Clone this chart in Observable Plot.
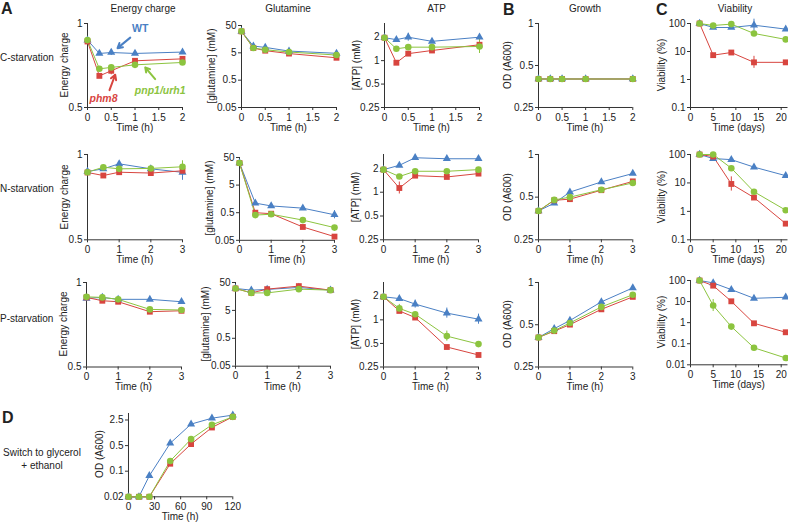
<!DOCTYPE html>
<html><head><meta charset="utf-8">
<script src="https://cdn.jsdelivr.net/npm/d3@7"></script>
<script src="https://cdn.jsdelivr.net/npm/@observablehq/plot@0.6"></script>
<style>
body{margin:0;background:#fff;}
#fig{position:relative;width:788px;height:523px;overflow:hidden;font-family:"Liberation Sans",Arial,Helvetica,sans-serif;color:#222;}
.t{position:absolute;white-space:nowrap;font-size:10px;line-height:1;}
.c{transform:translate(-50%,-50%);}
.r{transform:translate(-50%,-50%) rotate(-90deg);}
.lft{transform:translate(0,-50%);}
.p{position:absolute;}
.p svg{max-width:none !important;display:block;}
.L{font-weight:bold;font-size:16px;}
</style></head><body><div id="fig"></div>
<script>
// ---------- data ----------
const seriesNames = ["WT", "phm8", "pnp1/urh1"];
const colors = ["#4a80c4", "#d8453f", "#8cc43f"];
const symbols = ["triangle", "square", "circle"];
const sizes = [3.0, 3.3, 3.3];

const timeC = [0, 0.25, 0.5, 1, 2];
const timeNP = [0, 0.5, 1, 2, 3];
const days = [2, 5, 9, 14, 21];
const timeD = [0, 12, 24, 48, 72, 96, 120];

const ticksTimeC = [0, 0.5, 1, 1.5, 2];
const ticksTimeNP = [0, 1, 2, 3];
const ticksDays = [0, 5, 10, 15, 20];
const ticksTimeD = [0, 30, 60, 90, 120];
const ticksEC = [0.5, 1];
const ticksGln = [0.05, 0.5, 5, 50];
const ticksATP = [0.25, 0.5, 1, 2];
const ticksOD = [0.25, 0.5, 1];
const ticksVia = [0.1, 1, 10, 100];
const ticksViaP = [0.01, 0.1, 1, 10, 100];
const ticksODD = [0.02, 0.1, 0.5, 2.5];

// Energy charge
const ecC_WT = [0.872, 0.781, 0.787, 0.781, 0.79];
const ecC_phm8 = [0.862, 0.649, 0.677, 0.735, 0.747];
const ecC_pnp = [0.872, 0.688, 0.696, 0.711, 0.725];
const ecN_WT = [0.871, 0.89, 0.927, 0.89, 0.865];
const ecN_phm8 = [0.864, 0.843, 0.866, 0.86, 0.876];
const ecN_pnp = [0.866, 0.902, 0.89, 0.893, 0.905];
const ecP_WT = [0.878, 0.885, 0.871, 0.871, 0.854];
const ecP_phm8 = [0.885, 0.861, 0.854, 0.787, 0.793];
const ecP_pnp = [0.889, 0.885, 0.871, 0.802, 0.798];

// Glutamine (mM)
const glnC_WT = [30.5, 8.85, 7.9, 5.8, 4.8];
const glnC_phm8 = [30.5, 7.5, 6.0, 4.7, 3.3];
const glnC_pnp = [30.5, 7.5, 6.5, 5.35, 4.15];
const glnN_WT = [31.5, 1.11, 0.88, 0.73, 0.42];
const glnN_phm8 = [31.5, 0.5, 0.46, 0.152, 0.068];
const glnN_pnp = [31.5, 0.41, 0.44, 0.27, 0.144];
const glnP_WT = [30.6, 26.6, 28.2, 33.3, 26.6];
const glnP_phm8 = [30.6, 21.2, 28.9, 37.1, 26.6];
const glnP_pnp = [30.6, 21.2, 21.2, 28.9, 26.6];

// ATP (mM)
const atpC_WT = [1.97, 1.86, 2.0, 1.77, 2.0];
const atpC_phm8 = [1.97, 0.94, 1.23, 1.35, 1.6];
const atpC_pnp = [1.97, 1.42, 1.49, 1.49, 1.52];
const atpN_WT = [1.93, 2.19, 2.73, 2.65, 2.65];
const atpN_phm8 = [1.93, 1.13, 1.62, 1.56, 1.72];
const atpN_pnp = [1.93, 1.58, 1.84, 1.84, 1.93];
const atpP_WT = [1.97, 1.87, 1.59, 1.22, 1.02];
const atpP_phm8 = [1.97, 1.30, 1.07, 0.45, 0.356];
const atpP_pnp = [1.97, 1.40, 1.18, 0.62, 0.49];

// Growth OD (A600)
const grC_WT = [0.40, 0.40, 0.40, 0.40, 0.40];
const grC_phm8 = [0.40, 0.40, 0.40, 0.40, 0.40];
const grC_pnp = [0.40, 0.40, 0.40, 0.40, 0.40];
const grN_WT = [0.40, 0.453, 0.543, 0.64, 0.734];
const grN_phm8 = [0.40, 0.475, 0.484, 0.56, 0.646];
const grN_pnp = [0.40, 0.478, 0.50, 0.564, 0.63];
const grP_WT = [0.406, 0.469, 0.536, 0.728, 0.915];
const grP_phm8 = [0.406, 0.45, 0.501, 0.644, 0.79];
const grP_pnp = [0.406, 0.454, 0.515, 0.67, 0.818];

// Viability (%)
const viaC_WT = [100, 72, 72, 87, 63];
const viaC_phm8 = [100, 7.4, 9.2, 4.1, 4.1];
const viaC_pnp = [100, 85, 95, 44, 27];
const viaN_WT = [100, 72, 66, 36, 18];
const viaN_phm8 = [100, 85, 9.2, 3.06, 0.37];
const viaN_pnp = [100, 100, 33, 4.9, 1.1];
const viaP_WT = [100, 77, 37, 14.3, 16];
const viaP_phm8 = [100, 57, 10.3, 0.93, 0.35];
const viaP_pnp = [100, 6.5, 0.65, 0.064, 0.021];

// D: switch to glycerol + ethanol, OD (A600)
const odD_WT = [0.02, 0.02, 0.075, 0.58, 1.93, 2.8, 3.4];
const odD_phm8 = [0.02, 0.02, 0.02, 0.16, 0.55, 1.56, 3.05];
const odD_pnp = [0.02, 0.02, 0.02, 0.19, 0.75, 1.85, 3.05];

// error bars: panel, series index, point index, multiplicative half-width
const errPanel = ["ecC", "ecC", "atpC", "atpC", "atpN", "atpP", "atpP", "atpP", "atpP", "atpP", "viaC", "viaC", "viaN", "viaP", "glnN", "ecN", "ecN"];
const errSeries = [0, 1, 0, 2, 1, 0, 0, 0, 2, 2, 0, 1, 1, 2, 0, 0, 2];
const errIndex = [2, 2, 2, 4, 1, 2, 3, 4, 1, 3, 3, 3, 2, 1, 4, 4, 4];
const errFactor = [1.025, 1.034, 1.125, 1.23, 1.19, 1.125, 1.16, 1.16, 1.125, 1.16, 1.64, 1.64, 1.78, 1.93, 1.4, 1.067, 1.05];

// annotation (energy charge, C-starvation), in data units
const labelText = ["WT", "phm8", "pnp1/urh1"];
const labelX = [1.11, 0.337, 1.53];
const labelY = [0.955, 0.536, 0.577];
const arrowX1 = [0.9, 0.463, 1.425];
const arrowY1 = [0.89, 0.577, 0.632];
const arrowX2 = [0.632, 0.583, 1.215];
const arrowY2 = [0.816, 0.655, 0.696];

// ---------- drawing ----------
const fig = document.getElementById("fig");
function txt(s, x, y, cls, style) {
  const d = document.createElement("div");
  d.className = "t " + cls; d.textContent = s;
  d.style.left = x + "px"; d.style.top = y + "px";
  if (style) Object.assign(d.style, style);
  fig.appendChild(d);
}
const fmt = d => String(d);
const axisColor = "#333";

function panel(o) {
  const ml = 34, mr = 8, mt = 8, mb = 18;
  const w = o.x1 - o.x0, h = o.y1 - o.y0;
  const marks = [
    Plot.ruleX([o.xDomain[0]], {stroke: axisColor, strokeWidth: 1}),
    Plot.ruleY([o.yDomain[0]], {stroke: axisColor, strokeWidth: 1}),
    Plot.axisY({ticks: o.yTicks, tickSize: 3, tickFormat: () => "", label: null, stroke: axisColor}),
    Plot.text(o.yTicks, {y: d => d, text: fmt, frameAnchor: "left", textAnchor: "end", dx: -5, fill: "#222"}),
    Plot.axisX({ticks: o.xTicks, tickSize: 3, tickPadding: 3, tickFormat: fmt, label: null, stroke: axisColor})
  ];
  const sets = o.series.map((vals, si) => vals.map((v, i) => ({x: o.xs[i], y: v, s: seriesNames[si]})));
  // error bars
  errPanel.forEach((p, k) => {
    if (p !== o.id) return;
    const pt = sets[errSeries[k]][errIndex[k]];
    marks.push(Plot.ruleX([pt], {x: "x", y1: d => d.y / errFactor[k], y2: d => d.y * errFactor[k], stroke: colors[errSeries[k]], strokeWidth: 1}));
  });
  sets.forEach((d, si) => marks.push(Plot.line(d, {x: "x", y: "y", stroke: colors[si], strokeWidth: 1})));
  sets.forEach((d, si) => marks.push(Plot.dot(d, {x: "x", y: "y", fill: colors[si], symbol: symbols[si], r: sizes[si]})));
  if (o.extra) marks.push(...o.extra);
  const W = ml + w + mr, H = mt + h + mb;
  const chart = Plot.plot({
    width: W, height: H,
    marginLeft: ml, marginRight: mr, marginTop: mt, marginBottom: mb,
    x: {domain: o.xDomain},
    y: {type: "log", domain: o.yDomain},
    style: {fontFamily: '"Liberation Sans",Arial,Helvetica,sans-serif', fontSize: "10px", color: "#222", background: "transparent", overflow: "visible"},
    marks
  });
  const div = document.createElement("div");
  div.className = "p";
  div.style.left = (o.x0 - ml) + "px"; div.style.top = (o.y0 - mt) + "px";
  div.style.width = W + "px"; div.style.height = H + "px";
  div.appendChild(chart);
  fig.appendChild(div);
  txt(o.ylabel, o.x0 - o.ylOff, (o.y0 + o.y1) / 2, "r");
  txt(o.xlabel, (o.x0 + o.x1) / 2, o.y1 + 21, "c");
}

const annots = labelText.map((s, i) => ({s, x: labelX[i], y: labelY[i], x1: arrowX1[i], y1: arrowY1[i], x2: arrowX2[i], y2: arrowY2[i], c: colors[i]}));
const annMarks = [
  ...annots.map(a => Plot.arrow([a], {x1: "x1", y1: "y1", x2: "x2", y2: "y2", stroke: a.c, strokeWidth: 2, headLength: 6})),
  ...annots.map((a, i) => Plot.text([a], {x: "x", y: "y", text: "s", fill: a.c, fontWeight: "bold", fontStyle: i === 0 ? "normal" : "italic", fontSize: 10.5}))
];

const rows = [
  {key: "C", top: 23, bottom: 107, xs: timeC, xTicks: ticksTimeC, xMax: 2,
   ec: [ecC_WT, ecC_phm8, ecC_pnp], gln: [glnC_WT, glnC_phm8, glnC_pnp], atp: [atpC_WT, atpC_phm8, atpC_pnp],
   gr: [grC_WT, grC_phm8, grC_pnp], via: [viaC_WT, viaC_phm8, viaC_pnp],
   ecX: 87.3, glnX: 241, atpX: 384, glnTop: 25, viaDomain: [0.1, 100], viaTicks: ticksVia},
  {key: "N", top: 154, bottom: 239.3, xs: timeNP, xTicks: ticksTimeNP, xMax: 3,
   ec: [ecN_WT, ecN_phm8, ecN_pnp], gln: [glnN_WT, glnN_phm8, glnN_pnp], atp: [atpN_WT, atpN_phm8, atpN_pnp],
   gr: [grN_WT, grN_phm8, grN_pnp], via: [viaN_WT, viaN_phm8, viaN_pnp],
   ecX: 87.3, glnX: 239.3, atpX: 383.3, glnTop: 156.5, viaDomain: [0.1, 100], viaTicks: ticksVia},
  {key: "P", top: 281.5, bottom: 366, xs: timeNP, xTicks: ticksTimeNP, xMax: 3,
   ec: [ecP_WT, ecP_phm8, ecP_pnp], gln: [glnP_WT, glnP_phm8, glnP_pnp], atp: [atpP_WT, atpP_phm8, atpP_pnp],
   gr: [grP_WT, grP_phm8, grP_pnp], via: [viaP_WT, viaP_phm8, viaP_pnp],
   ecX: 86, glnX: 235, atpX: 383, glnTop: 282.3, viaDomain: [0.01, 100], viaTicks: ticksViaP}
];

rows.forEach((R, ri) => {
  const pw = 95;
  panel({id: "ec" + R.key, x0: R.ecX, x1: R.ecX + pw, y0: R.top, y1: R.bottom, xs: R.xs, xDomain: [0, R.xMax], xTicks: R.xTicks,
    yDomain: [0.5, 1], yTicks: ticksEC, series: R.ec, ylabel: "Energy charge", ylOff: 22, xlabel: "Time (h)",
    extra: ri === 0 ? annMarks : null});
  panel({id: "gln" + R.key, x0: R.glnX, x1: R.glnX + pw, y0: R.glnTop, y1: R.bottom, xs: R.xs, xDomain: [0, R.xMax], xTicks: R.xTicks,
    yDomain: [0.05, 50], yTicks: ticksGln, series: R.gln, ylabel: "[glutamine] (mM)", ylOff: 29, xlabel: "Time (h)"});
  panel({id: "atp" + R.key, x0: R.atpX, x1: R.atpX + 95, y0: R.top, y1: R.bottom, xs: R.xs, xDomain: [0, R.xMax], xTicks: R.xTicks,
    yDomain: [0.25, 3], yTicks: ticksATP, series: R.atp, ylabel: "[ATP] (mM)", ylOff: 27, xlabel: "Time (h)"});
  panel({id: "gr" + R.key, x0: 537.7, x1: 632, y0: R.top, y1: R.bottom, xs: R.xs, xDomain: [0, R.xMax], xTicks: R.xTicks,
    yDomain: [0.25, 1], yTicks: ticksOD, series: R.gr, ylabel: "OD (A600)", ylOff: 29.5, xlabel: "Time (h)"});
  panel({id: "via" + R.key, x0: 690, x1: 787.5, y0: R.top - (ri === 2 ? 1.5 : 0), y1: R.bottom - (ri === 2 ? 1.7 : 0), xs: days, xDomain: [0, 21.5], xTicks: ticksDays,
    yDomain: R.viaDomain, yTicks: R.viaTicks, series: R.via, ylabel: "Viability (%)", ylOff: 28.5, xlabel: "Time (days)"});
});

panel({id: "odD", x0: 128, x1: 232.3, y0: 412.7, y1: 496, xs: timeD, xDomain: [0, 120], xTicks: ticksTimeD,
  yDomain: [0.02, 3.76], yTicks: ticksODD, series: [odD_WT, odD_phm8, odD_pnp], ylabel: "OD (A600)", ylOff: 28, xlabel: "Time (h)"});

// titles, letters, row labels
txt("Energy charge", 143, 8.5, "c");
txt("Glutamine", 288, 8.5, "c");
txt("ATP", 436.7, 8.5, "c");
txt("Growth", 585, 8.5, "c");
txt("Viability", 735, 8.5, "c");
txt("A", 1, 1, "L");
txt("B", 503, 2, "L");
txt("C", 656, 2, "L");
txt("D", 2, 410, "L");
txt("C-starvation", 0, 58, "lft");
txt("N-starvation", 0, 188.5, "lft");
txt("P-starvation", 0, 319, "lft");
txt("Switch to glycerol", 42, 453, "c");
txt("+ ethanol", 42, 465.5, "c");
</script></body></html>
